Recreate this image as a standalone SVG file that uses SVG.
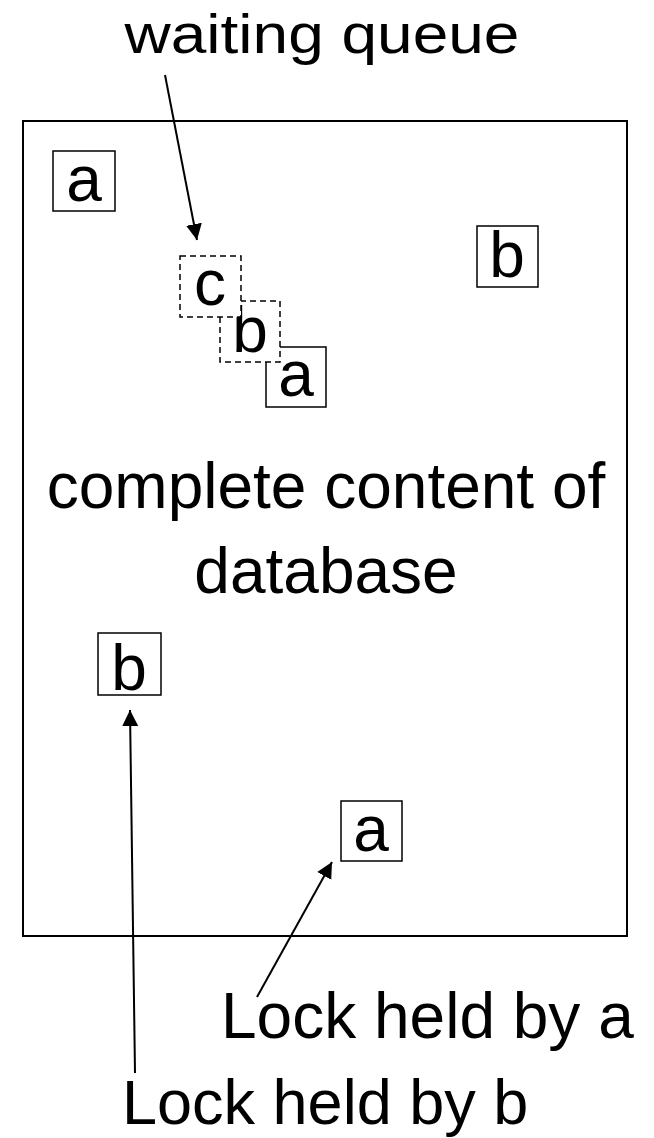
<svg xmlns="http://www.w3.org/2000/svg" width="654" height="1138" viewBox="0 0 654 1138">
<style>
text{font-family:"Liberation Sans",Arial,sans-serif;font-size:64px;fill:#000;text-anchor:middle}
.box{fill:#fff;stroke:#000;stroke-width:1.5}
.dash{fill:#fff;stroke:#000;stroke-width:1.5;stroke-dasharray:6 4}
.conn{stroke:#000;stroke-width:2;fill:none;marker-end:url(#ah)}
</style>
<defs>
<marker id="ah" markerWidth="16" markerHeight="18" refX="16" refY="8" orient="auto" markerUnits="userSpaceOnUse" viewBox="0 0 16 16">
<path d="M0,0 L16,8 L0,16 Z" fill="#000"/>
</marker>
</defs>
<rect id="database" x="23" y="121" width="604" height="815" fill="#fff" stroke="#000" stroke-width="2"/>
<g id="db-label"><text x="326" y="508">complete content of</text><text x="326" y="593">database</text></g>
<g id="lock-a1"><rect class="box" x="53" y="151" width="62" height="60"/><text x="84" y="201">a</text></g>
<g id="lock-b1"><rect class="box" x="477" y="226" width="61" height="61"/><text x="507" y="277">b</text></g>
<g id="queue-a"><rect class="box" x="266" y="347" width="60" height="60"/><text x="296" y="396">a</text></g>
<g id="queue-b"><rect class="dash" x="220" y="301" width="60" height="61"/><text x="250" y="352">b</text></g>
<g id="queue-c"><rect class="dash" x="180" y="256" width="61" height="61"/><text x="210" y="305">c</text></g>
<g id="lock-b2"><rect class="box" x="98" y="633" width="63" height="62"/><text x="129" y="690">b</text></g>
<g id="lock-a2"><rect class="box" x="341" y="801" width="61" height="60"/><text x="371" y="851">a</text></g>
<g id="label-queue"><text transform="translate(322,53) scale(1,0.88)" x="0" y="0">waiting queue</text></g>
<g id="label-lock-a"><text x="221" y="1038" style="text-anchor:start">Lock held by a</text></g>
<g id="label-lock-b"><text x="122" y="1124" style="text-anchor:start;font-size:63px">Lock held by b</text></g>
<g id="connectors">
<line class="conn" x1="165" y1="75" x2="197" y2="240"/>
<line class="conn" x1="257" y1="997" x2="332" y2="862"/>
<line class="conn" x1="135" y1="1073" x2="130" y2="710"/>
</g>
</svg>
